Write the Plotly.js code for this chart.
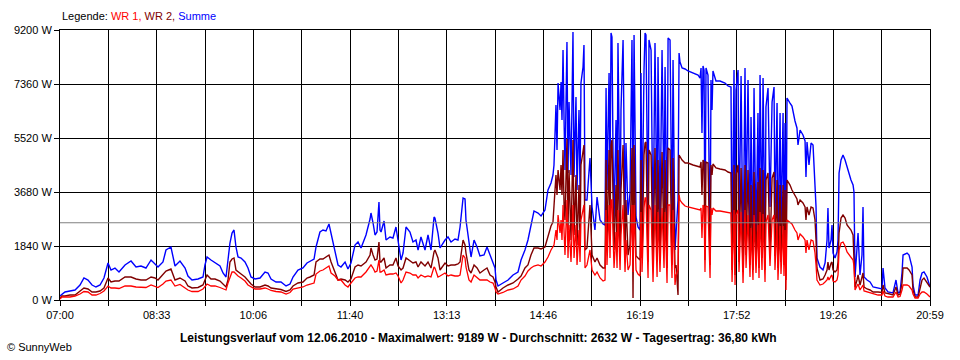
<!DOCTYPE html>
<html>
<head>
<meta charset="utf-8">
<script src="https://cdn.plot.ly/plotly-3.0.1.min.js"></script>
<style>html,body{margin:0;padding:0;background:#fff;}#chart{width:960px;height:360px;}</style>
</head>
<body>
<div id="chart"></div>
<script>
// time in minutes after 07:00
const minutes = [
0,1.9,4.8,9.6,14.5,19.3,23.1,27.0,30.9,34.7,38.6,42.4,46.3,49.2,53.0,56.9,62.7,68.5,73.3,78.1,82.9,87.8,91.6,94.5,99.3,102.2,107.0,110.9,115.7,120.6,
123.4,127.3,133.1,137.9,139.8,141.8,145.6,149.5,154.3,157.2,160.1,162.0,163.9,165.9,167.8,169.7,171.7,174.6,178.4,181.3,184.2,188.1,192.9,197.7,200.6,203.5,208.3,213.1,218.0,221.8,224.7,229.5,234.3,238.2,
241.1,245.0,246.9,250.7,253.6,256.5,259.4,261.4,265.2,268.1,271.0,274.9,277.7,280.6,284.5,287.4,290.3,295.1,299.0,299.9,301.9,303.8,305.7,307.6,308.6,309.6,312.5,314.4,318.2,321.1,324.0,326.0,328.9,330.8,333.7,337.5,340.4,343.3,345.3,348.1,352.0,354.9,357.8,360.7,
361.6,364.5,366.5,371.3,374.2,377.1,380.9,383.8,385.8,388.7,390.6,391.5,394.4,396.4,399.3,402.2,405.0,408.9,411.8,414.7,417.6,419.5,420.5,422.4,427.2,432.1,436.9,441.7,444.6,448.4,451.3,454.2,457.1,461.0,463.9,467.7,470.6,473.5,475.4,
476.4,478.3,479.3,480.3,482.2,483.2,484.1,485.1,486.1,487.0,488.9,489.9,490.9,492.8,494.7,495.7,497.6,498.6,500.5,501.5,502.4,504.4,505.3,506.3,508.2,511.1,513.1,515.9,517.9,520.8,523.7,525.6,526.6,527.5,529.5,530.4,531.4,532.3,533.3,534.3,536.2,537.2,538.1,540.1,541.0,543.0,544.9,545.8,547.8,549.7,551.6,552.6,553.6,555.5,557.4,559.4,560.3,561.3,563.2,564.2,565.1,567.1,568.0,570.0,571.9,573.8,575.8,576.7,578.6,580.6,582.5,583.5,585.4,586.4,588.3,590.2,591.2,593.1,594.1,596.0,597.0,597.9,
599.9,602.8,605.6,610.5,615.3,617.2,618.2,619.1,620.1,621.1,622.0,623.0,624.9,626.9,627.8,628.8,629.7,632.6,636.5,641.3,644.2,647.1,648.1,650.0,651.0,651.9,653.9,654.8,656.8,658.7,660.6,661.6,663.5,665.4,666.4,668.3,669.3,671.2,673.1,674.1,675.1,677.0,678.0,679.9,680.8,682.8,684.7,686.7,688.6,689.5,691.5,692.4,694.4,695.3,697.3,698.2,699.2,700.1,
701.1,704.0,705.9,708.8,710.7,711.7,713.7,716.5,718.5,719.4,720.4,722.3,724.3,726.2,728.1,729.1,730.0,732.9,735.8,737.8,739.7,740.6,741.6,743.6,744.5,745.5,747.4,749.3,750.3,751.3,753.2,755.1,757.1,759.0,760.9,762.8,764.8,765.7,766.7,768.6,769.6,771.5,773.4,774.4,775.4,778.3,781.2,784.1,788.9,792.7,793.7,795.6,798.5,803.3,806.2,808.2,810.1,812.0,813.0,816.9,818.8,821.7,822.6,824.6,827.5,829.4,831.3,833.2,836.1,839.0
];

// Summe (W)
const summe = [
136,204,273,307,341,511,750,681,511,443,511,750,1261,1022,1090,954,1193,1329,1124,1158,1090,1363,1227,1124,1295,1704,1806,1158,1329,1090,
818,681,716,784,1193,1465,1363,1261,1158,920,784,1363,1942,2283,2385,1806,1465,1431,1295,1090,784,716,750,954,920,716,613,613,477,545,784,1022,1090,1261,
1329,1397,1806,2317,2385,2351,2590,2283,1704,1193,1124,1295,1056,1261,1874,1976,1772,2215,2760,2964,2624,2215,2317,3339,2385,2317,2692,2044,2147,2113,2487,2044,1363,1601,2487,2317,1976,2044,1704,2147,1704,2215,1704,2828,
2794,2283,1772,2044,2147,1976,2078,2044,2487,3476,3441,2726,1942,1465,2044,1806,1499,1533,1806,1533,1261,1090,681,477,579,681,852,954,1363,1704,2044,2556,3033,2964,2862,3067,3748,3987,4259,
4600,6644,5111,7394,6474,7428,6133,8519,6133,4430,8791,4327,6747,4259,9132,4191,6917,3748,6474,3748,7394,7939,8689,3407,3407,4838,3169,2385,3510,2726,2590,2556,7224,3748,7735,4089,9098,8961,5111,2726,6133,2896,8757,2964,6474,8859,2726,5350,2896,3646,8859,2726,9030,2828,2487,2385,7735,2624,7837,9098,9030,2283,8859,8519,2044,8757,2283,8280,2487,8519,3169,7939,1806,8927,8859,2283,8178,1704,2283,3407,8416,8110,
7905,7871,7803,7735,7667,7564,7905,5690,7973,7837,2113,7905,7667,1670,7496,6474,7803,7462,7462,7394,7292,7258,1431,7837,1193,7156,7837,2044,7632,1295,7905,2896,7496,1874,6235,1533,7224,2044,6372,1533,7667,2385,7564,1601,6576,7224,3169,6747,7258,2726,6712,1601,6372,2283,6372,1704,6031,1022,
6883,6712,6610,6099,5861,5281,5793,5622,5418,4191,5384,4600,5350,5281,4089,3169,1431,1124,1022,1261,2044,3135,1772,2044,2556,1601,1431,1636,2044,4327,4770,4941,4770,4532,4259,4089,3918,3680,784,1704,2283,852,1533,3169,784,681,613,443,409,375,1090,409,273,239,681,239,273,920,1533,1601,1533,1124,511,170,170,681,920,954,784,443
];

// WR 2 (W)
const wr2 = [
68,136,136,170,170,307,409,375,273,273,307,409,750,613,647,647,784,784,716,681,681,784,750,681,852,988,1056,681,750,647,
477,409,426,511,681,852,716,716,647,545,443,681,1295,1397,1431,1022,954,886,784,647,545,443,443,511,477,409,375,358,290,341,477,579,613,750,
784,852,1295,1397,1397,1465,1533,1295,954,681,716,681,613,716,1124,1193,1158,1295,1533,1772,1533,1363,1397,1976,1295,1295,1431,1090,1193,1193,1431,1158,1022,1090,1431,1329,1261,1295,1124,1295,1158,1295,1090,1636,
1704,1431,1022,1261,1158,1193,1193,1227,1295,2044,1874,1601,1022,920,1193,1090,920,1022,1090,852,784,613,443,273,409,511,579,716,818,1090,1193,1533,1772,1772,1738,1806,2215,2521,2658,
3237,4259,3578,4430,3748,4600,3578,5111,3237,2726,5486,2385,4430,2044,5452,2215,4259,1874,3918,1942,4600,5111,5281,1704,1772,3237,1533,1295,1431,1193,1090,1090,4770,1874,5111,2385,5281,5452,3067,1704,3918,1636,5111,1533,3748,5281,1533,3407,1533,1874,5179,68,5281,1499,1431,1363,4770,1431,4941,5350,5384,1295,5111,4941,1193,5179,1295,4770,1431,5043,1704,4770,1090,5179,5111,1193,4838,1090,1193,170,4941,4873,
4770,4668,4668,4600,4566,4532,4702,3578,4770,4702,1363,4702,4668,1193,4600,4259,4634,4498,4464,4430,4361,4327,1022,4600,852,4259,4600,1295,4498,954,4600,1533,4430,1193,3918,1022,4361,1295,4021,1090,4498,1431,4430,1022,4089,4327,1704,4157,4361,1499,4089,1090,3918,1295,3918,1193,3748,681,
4089,3918,3748,3544,3441,3237,3407,3305,3169,2726,3169,2896,3169,3135,2726,2044,1090,681,716,852,1022,1295,1022,1261,1295,1022,954,1022,1295,2283,2794,2896,2794,2556,2453,2385,2215,1601,443,681,852,511,750,920,443,375,341,273,273,256,511,239,221,170,443,170,204,579,1090,1090,1022,852,341,102,102,443,681,750,613,443
];

// WR 1 (W)
const wr1 = [
34,102,102,102,136,204,290,273,170,170,221,307,477,409,409,392,477,477,443,443,426,511,477,426,545,647,681,477,528,426,
341,290,290,375,460,545,477,477,426,392,341,579,784,954,954,886,818,750,647,511,443,375,375,409,375,324,290,273,204,256,375,409,443,511,
545,579,886,988,1022,1090,1158,920,818,681,681,511,443,579,750,784,784,954,1124,1193,1090,954,988,1363,954,954,1022,852,886,886,920,818,579,681,954,920,852,852,750,852,784,818,784,1124,
1090,784,818,920,818,852,818,818,852,1533,1431,1124,681,613,852,750,681,681,681,613,579,409,273,204,256,341,375,477,681,818,988,1090,1158,1193,1158,1295,1465,1704,1806,
1874,2385,2044,2896,2283,2726,2044,3237,1874,1533,3407,1431,2556,1295,3237,1431,2556,1193,2385,1295,2726,3067,3237,1090,1193,1704,1022,852,954,750,647,681,3067,1193,3237,1431,3407,3407,1874,1090,2317,1090,3067,1022,2215,3237,954,2044,1022,1193,3237,954,3237,1022,886,818,2998,954,3135,3476,3476,750,3237,3067,613,3237,784,2998,954,3135,1090,2998,579,3237,3237,750,3067,511,852,1022,3578,3407,
3305,3203,3169,3135,3101,3067,3135,2113,3237,3169,954,3203,3169,750,3135,2896,3135,3033,3033,2998,2964,2964,613,3067,511,2896,3067,954,2998,579,3067,1090,2896,784,2453,681,2896,920,2556,750,2998,1022,2930,613,2658,2896,1158,2726,2896,1022,2658,681,2521,886,2521,818,2385,341,
2726,2658,2590,2385,2283,2044,2249,2147,2044,1601,2044,1704,2044,2010,1601,1193,681,511,545,613,681,784,681,818,852,647,613,681,852,1704,1942,1976,1840,1636,1533,1465,1363,1158,341,477,545,341,443,511,307,273,239,204,170,170,307,136,102,102,273,102,119,341,511,511,477,341,204,68,68,204,273,273,204,102
];

const averageW = 2632;
const timeLabels = ["07:00","08:33","10:06","11:40","13:13","14:46","16:19","17:52","19:26","20:59"];
const yTickValues = [0,1840,3680,5520,7360,9200];
const legendPrefix = "Legende: ";
const seriesNames = ["WR 1","WR 2","Summe"];
const footerText = "Leistungsverlauf vom 12.06.2010 - Maximalwert: 9189 W - Durchschnitt: 2632 W - Tagesertrag: 36,80 kWh";
const creditText = "\u00A9 SunnyWeb";

const totalMinutes = 839;
const gridCount = 18;
const xTickVals = [], xTickText = [];
for (let i = 0; i <= gridCount; i++) {
  xTickVals.push(i * totalMinutes / gridCount);
  xTickText.push(i % 2 === 0 ? timeLabels[i / 2] : "");
}

const colors = {wr1: "#FF0000", wr2: "#800000", summe: "#0000FF"};
const traces = [
  {x: minutes, y: summe, type: "scatter", mode: "lines", name: seriesNames[2], line: {color: colors.summe, width: 1.4}},
  {x: minutes, y: wr2, type: "scatter", mode: "lines", name: seriesNames[1], line: {color: colors.wr2, width: 1.4}},
  {x: minutes, y: wr1, type: "scatter", mode: "lines", name: seriesNames[0], line: {color: colors.wr1, width: 1.3}}
];

const font = "'Liberation Sans', Arial, sans-serif";
const layout = {
  width: 960, height: 360,
  margin: {l: 60, r: 30, t: 30, b: 60},
  paper_bgcolor: "#fff", plot_bgcolor: "#fff",
  showlegend: false,
  font: {family: font, size: 11, color: "#000"},
  xaxis: {
    range: [0, totalMinutes], tickmode: "array", tickvals: xTickVals, ticktext: xTickText,
    showgrid: true, gridcolor: "#000", gridwidth: 1, zeroline: false,
    ticks: "outside", ticklen: 5, tickcolor: "#000", tickwidth: 1,
    showline: true, mirror: true, linecolor: "#000", linewidth: 1,
    tickfont: {family: font, size: 11, color: "#000"}, fixedrange: true
  },
  yaxis: {
    range: [0, 9200], tickmode: "array", tickvals: yTickValues, ticktext: yTickValues.map(v => v + " W"),
    showgrid: true, gridcolor: "#000", gridwidth: 1, zeroline: false,
    ticks: "outside", ticklen: 5, tickcolor: "#000", tickwidth: 1,
    showline: true, mirror: true, linecolor: "#000", linewidth: 1,
    tickfont: {family: font, size: 11, color: "#000"}, fixedrange: true
  },
  shapes: [{
    type: "line", xref: "paper", x0: 0, x1: 1, yref: "y", y0: averageW, y1: averageW,
    line: {color: "#808080", width: 1}, layer: "above"
  }],
  annotations: [
    {
      xref: "paper", yref: "paper", x: 0, y: 1.052, xanchor: "left", yanchor: "middle", showarrow: false,
      text: '<span style="color:#000">' + legendPrefix + '</span>' +
            '<span style="color:' + colors.wr1 + '">' + seriesNames[0] + ', </span>' +
            '<span style="color:' + colors.wr2 + '">' + seriesNames[1] + ', </span>' +
            '<span style="color:' + colors.summe + '">' + seriesNames[2] + '</span>',
      font: {family: font, size: 11}
    },
    {
      xref: "paper", yref: "paper", x: 0.4816, y: -0.141, xanchor: "center", yanchor: "middle", showarrow: false,
      text: "<b>" + footerText + "</b>", font: {family: font, size: 12, color: "#000"}
    },
    {
      xref: "paper", yref: "paper", x: -0.0632, y: -0.174, xanchor: "left", yanchor: "middle", showarrow: false,
      text: creditText, font: {family: font, size: 11, color: "#000"}
    }
  ]
};

Plotly.newPlot("chart", traces, layout, {staticPlot: true, displayModeBar: false});
</script>
</body>
</html>
